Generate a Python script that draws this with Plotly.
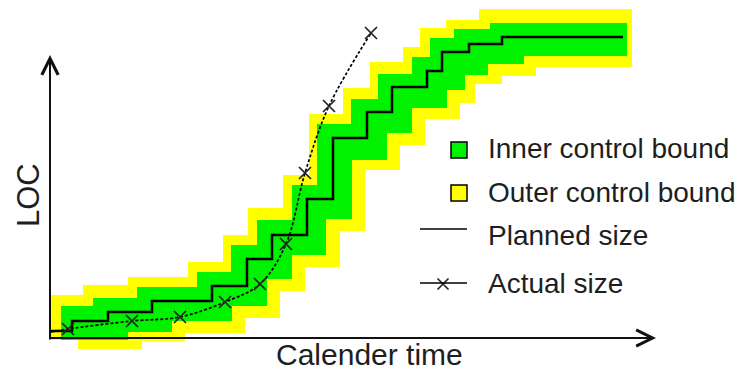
import plotly.graph_objects as go

# ---------------- data (time units, LOC units) ----------------
# Planned size: step function (breakpoints in time, LOC level after each break)
planned_t = [1, 22, 58, 102, 162, 197, 222, 257, 283, 317, 342, 377, 392, 419, 452, 573]
planned_loc = [7, 17, 26, 37, 52, 79, 103, 139, 200, 226, 251, 267, 286, 294, 301]

# Inner control bound (green): upper and lower step edges
inner_up_t = [11, 43, 87, 147, 181, 207, 242, 267, 301, 328, 362, 380, 404, 440, 577]
inner_up_loc = [32, 40, 51, 66, 93, 118, 153, 214, 239, 264, 281, 300, 309, 315]
inner_lo_t = [11, 78, 122, 182, 217, 242, 276, 302, 337, 362, 397, 415, 438, 474, 577]
inner_lo_loc = [-2, 6, 17, 32, 59, 83, 119, 178, 205, 230, 248, 263, 274, 282]

# Outer control bound (yellow): upper and lower step edges
outer_up_t = [0, 33, 78, 138, 173, 198, 233, 259, 293, 320, 353, 370, 396, 429, 582]
outer_up_loc = [43, 53, 61, 76, 103, 130, 163, 224, 250, 276, 291, 310, 318, 329]
outer_lo_t = [0, 28, 92, 135, 195, 230, 255, 290, 315, 350, 375, 410, 425, 452, 486, 582]
outer_lo_loc = [-2, -11, -3, 5, 20, 47, 71, 107, 168, 193, 219, 235, 254, 262, 271]

# Actual size measurements
actual_t = [1, 18, 82, 130, 175, 210, 236, 255, 279, 321]
actual_loc = [6, 9, 17, 21, 36, 54, 94, 165, 232, 305]

legend_labels = ["Inner control bound", "Outer control bound", "Planned size", "Actual size"]
x_title = "Calender time"
y_title = "LOC"

# ---------------- helpers ----------------
W, H = 738, 371
X0_PX, Y0_PX = 50, 338  # pixel position of data origin


def step_pts(breaks, levels):
    xs, ys = [], []
    for i, lv in enumerate(levels):
        xs += [breaks[i], breaks[i + 1]]
        ys += [lv, lv]
    return xs, ys


def band(up_t, up_l, lo_t, lo_l):
    ux, uy = step_pts(up_t, up_l)
    lx, ly = step_pts(lo_t, lo_l)
    return ux + lx[::-1], uy + ly[::-1]


def px(x):
    return x / W


def py(y):
    return 1 - y / H


fig = go.Figure()

ox, oy = band(outer_up_t, outer_up_loc, outer_lo_t, outer_lo_loc)
fig.add_trace(go.Scatter(x=ox, y=oy, fill="toself", fillcolor="#ffff00", mode="lines",
                         line=dict(width=0, color="rgba(0,0,0,0)"), hoverinfo="skip"))
ix, iy = band(inner_up_t, inner_up_loc, inner_lo_t, inner_lo_loc)
fig.add_trace(go.Scatter(x=ix, y=iy, fill="toself", fillcolor="#00f200", mode="lines",
                         line=dict(width=0, color="rgba(0,0,0,0)"), hoverinfo="skip"))

fig.add_trace(go.Scatter(x=planned_t, y=planned_loc + [planned_loc[-1]], mode="lines",
                         line=dict(color="black", width=2.5, shape="hv"), hoverinfo="skip"))

fig.add_trace(go.Scatter(x=actual_t, y=actual_loc, mode="lines",
                         line=dict(color="black", width=1.7, dash="3px,2px", shape="spline"),
                         hoverinfo="skip"))
fig.add_trace(go.Scatter(x=actual_t[1:], y=actual_loc[1:], mode="markers",
                         marker=dict(symbol="x-thin", size=12, color="black",
                                     line=dict(width=1.7, color="#222")),
                         hoverinfo="skip"))

# axes drawn as arrows
axis_col = "#111"
fig.add_annotation(x=0, y=283, ax=0, ay=-3, xref="x", yref="y", axref="x", ayref="y",
                   text="", showarrow=True, arrowhead=5, arrowsize=1.6, arrowwidth=2,
                   arrowcolor=axis_col)
fig.add_annotation(x=606, y=0, ax=-1, ay=0, xref="x", yref="y", axref="x", ayref="y",
                   text="", showarrow=True, arrowhead=5, arrowsize=1.6, arrowwidth=2,
                   arrowcolor=axis_col)

font = dict(family="Liberation Sans, Arial, sans-serif", size=28, color="#1e1e1e")
fig.add_annotation(x=px(369), y=py(354), xref="paper", yref="paper", text=x_title,
                   showarrow=False, font=dict(font, size=30), xanchor="center", yanchor="middle")
fig.add_annotation(x=px(29), y=py(195), xref="paper", yref="paper", text=y_title,
                   showarrow=False, font=dict(font, size=31), textangle=-90,
                   xanchor="center", yanchor="middle")

# custom legend
sq = 8
for cy, col in [(150, "#00f200"), (193, "#ffff00")]:
    fig.add_shape(type="rect", xref="paper", yref="paper",
                  x0=px(459 - sq), x1=px(459 + sq), y0=py(cy + sq), y1=py(cy - sq),
                  fillcolor=col, line=dict(color="black", width=1.5))
for cy in (229, 283):
    fig.add_shape(type="line", xref="paper", yref="paper",
                  x0=px(420), x1=px(467), y0=py(cy), y1=py(cy),
                  line=dict(color="black", width=1.6))
fig.add_trace(go.Scatter(x=[443 - X0_PX], y=[Y0_PX - 284], mode="markers",
                         marker=dict(symbol="x-thin", size=11, color="black",
                                     line=dict(width=1.6, color="#222")),
                         hoverinfo="skip"))
for cy, lab in zip((148, 192, 235, 283), legend_labels):
    fig.add_annotation(x=px(486), y=py(cy), xref="paper", yref="paper", text=lab,
                       showarrow=False, font=font, xanchor="left", yanchor="middle")

fig.update_layout(
    width=W, height=H, margin=dict(l=0, r=0, t=0, b=0),
    paper_bgcolor="white", plot_bgcolor="white", showlegend=False,
    xaxis=dict(range=[-X0_PX, W - X0_PX], visible=False, fixedrange=True),
    yaxis=dict(range=[Y0_PX - H, Y0_PX], visible=False, fixedrange=True),
)

fig.write_html("out.html", config={"displayModeBar": False},
               post_script="document.body.style.margin='0';document.body.style.overflow='hidden';")
